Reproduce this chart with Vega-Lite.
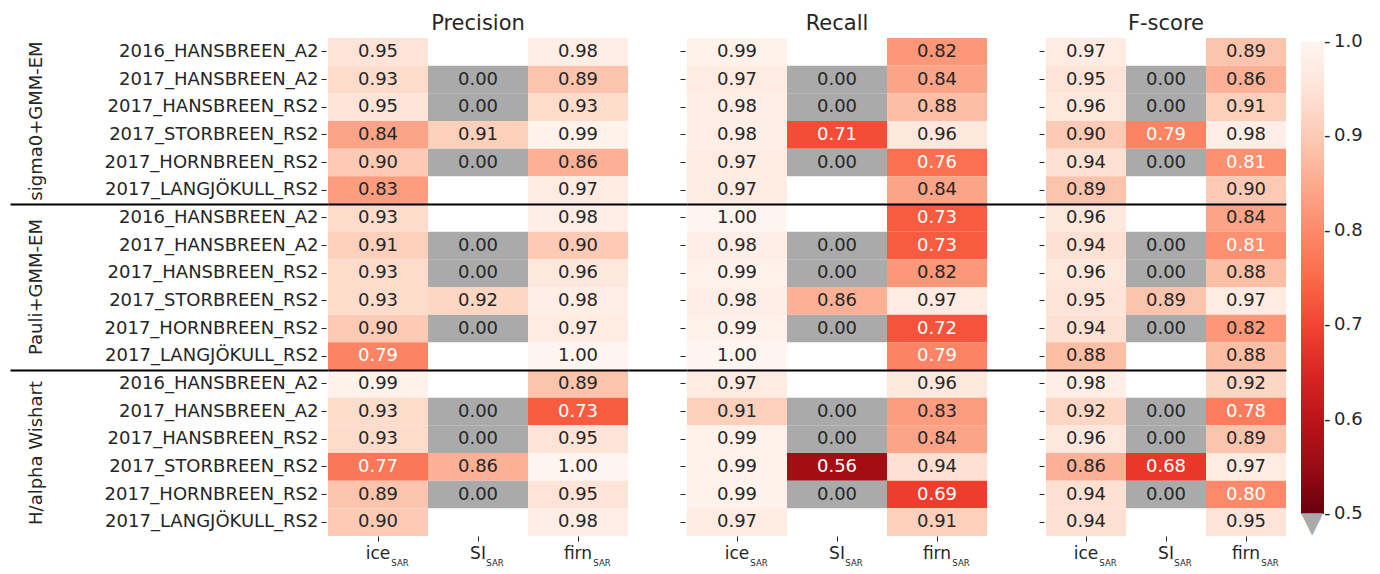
{
"$schema": "https://vega.github.io/schema/vega-lite/v6.json",
"padding": {"left": 8, "top": 13, "right": 5, "bottom": 5},
"background": "white",
"config": {
  "font": "DejaVu Sans",
  "view": {"stroke": null},
  "axis": {"labelFont": "DejaVu Sans", "labelColor": "#262626", "tickColor": "#262626", "domain": false, "title": null, "labelOverlap": false, "labelLimit": 0},
  "title": {"fontSize": 21, "fontWeight": "normal", "color": "#262626", "offset": 4, "font": "DejaVu Sans"},
  "legend": {"labelFont": "DejaVu Sans"}
},
"datasets": {
  "d": [
    {"m":"Precision","r":"s|2016_HANSBREEN_A2","ice":0.95,"firn":0.98},
    {"m":"Precision","r":"s|2017_HANSBREEN_A2","ice":0.93,"SI":0,"firn":0.89},
    {"m":"Precision","r":"s|2017_HANSBREEN_RS2","ice":0.95,"SI":0,"firn":0.93},
    {"m":"Precision","r":"s|2017_STORBREEN_RS2","ice":0.84,"SI":0.91,"firn":0.99},
    {"m":"Precision","r":"s|2017_HORNBREEN_RS2","ice":0.90,"SI":0,"firn":0.86},
    {"m":"Precision","r":"s|2017_LANGJÖKULL_RS2","ice":0.83,"firn":0.97},
    {"m":"Precision","r":"p|2016_HANSBREEN_A2","ice":0.93,"firn":0.98},
    {"m":"Precision","r":"p|2017_HANSBREEN_A2","ice":0.91,"SI":0,"firn":0.90},
    {"m":"Precision","r":"p|2017_HANSBREEN_RS2","ice":0.93,"SI":0,"firn":0.96},
    {"m":"Precision","r":"p|2017_STORBREEN_RS2","ice":0.93,"SI":0.92,"firn":0.98},
    {"m":"Precision","r":"p|2017_HORNBREEN_RS2","ice":0.90,"SI":0,"firn":0.97},
    {"m":"Precision","r":"p|2017_LANGJÖKULL_RS2","ice":0.79,"firn":1.00},
    {"m":"Precision","r":"h|2016_HANSBREEN_A2","ice":0.99,"firn":0.89},
    {"m":"Precision","r":"h|2017_HANSBREEN_A2","ice":0.93,"SI":0,"firn":0.73},
    {"m":"Precision","r":"h|2017_HANSBREEN_RS2","ice":0.93,"SI":0,"firn":0.95},
    {"m":"Precision","r":"h|2017_STORBREEN_RS2","ice":0.77,"SI":0.86,"firn":1.00},
    {"m":"Precision","r":"h|2017_HORNBREEN_RS2","ice":0.89,"SI":0,"firn":0.95},
    {"m":"Precision","r":"h|2017_LANGJÖKULL_RS2","ice":0.90,"firn":0.98},
    {"m":"Recall","r":"s|2016_HANSBREEN_A2","ice":0.99,"firn":0.82},
    {"m":"Recall","r":"s|2017_HANSBREEN_A2","ice":0.97,"SI":0,"firn":0.84},
    {"m":"Recall","r":"s|2017_HANSBREEN_RS2","ice":0.98,"SI":0,"firn":0.88},
    {"m":"Recall","r":"s|2017_STORBREEN_RS2","ice":0.98,"SI":0.71,"firn":0.96},
    {"m":"Recall","r":"s|2017_HORNBREEN_RS2","ice":0.97,"SI":0,"firn":0.76},
    {"m":"Recall","r":"s|2017_LANGJÖKULL_RS2","ice":0.97,"firn":0.84},
    {"m":"Recall","r":"p|2016_HANSBREEN_A2","ice":1.00,"firn":0.73},
    {"m":"Recall","r":"p|2017_HANSBREEN_A2","ice":0.98,"SI":0,"firn":0.73},
    {"m":"Recall","r":"p|2017_HANSBREEN_RS2","ice":0.99,"SI":0,"firn":0.82},
    {"m":"Recall","r":"p|2017_STORBREEN_RS2","ice":0.98,"SI":0.86,"firn":0.97},
    {"m":"Recall","r":"p|2017_HORNBREEN_RS2","ice":0.99,"SI":0,"firn":0.72},
    {"m":"Recall","r":"p|2017_LANGJÖKULL_RS2","ice":1.00,"firn":0.79},
    {"m":"Recall","r":"h|2016_HANSBREEN_A2","ice":0.97,"firn":0.96},
    {"m":"Recall","r":"h|2017_HANSBREEN_A2","ice":0.91,"SI":0,"firn":0.83},
    {"m":"Recall","r":"h|2017_HANSBREEN_RS2","ice":0.99,"SI":0,"firn":0.84},
    {"m":"Recall","r":"h|2017_STORBREEN_RS2","ice":0.99,"SI":0.56,"firn":0.94},
    {"m":"Recall","r":"h|2017_HORNBREEN_RS2","ice":0.99,"SI":0,"firn":0.69},
    {"m":"Recall","r":"h|2017_LANGJÖKULL_RS2","ice":0.97,"firn":0.91},
    {"m":"F-score","r":"s|2016_HANSBREEN_A2","ice":0.97,"firn":0.89},
    {"m":"F-score","r":"s|2017_HANSBREEN_A2","ice":0.95,"SI":0,"firn":0.86},
    {"m":"F-score","r":"s|2017_HANSBREEN_RS2","ice":0.96,"SI":0,"firn":0.91},
    {"m":"F-score","r":"s|2017_STORBREEN_RS2","ice":0.90,"SI":0.79,"firn":0.98},
    {"m":"F-score","r":"s|2017_HORNBREEN_RS2","ice":0.94,"SI":0,"firn":0.81},
    {"m":"F-score","r":"s|2017_LANGJÖKULL_RS2","ice":0.89,"firn":0.90},
    {"m":"F-score","r":"p|2016_HANSBREEN_A2","ice":0.96,"firn":0.84},
    {"m":"F-score","r":"p|2017_HANSBREEN_A2","ice":0.94,"SI":0,"firn":0.81},
    {"m":"F-score","r":"p|2017_HANSBREEN_RS2","ice":0.96,"SI":0,"firn":0.88},
    {"m":"F-score","r":"p|2017_STORBREEN_RS2","ice":0.95,"SI":0.89,"firn":0.97},
    {"m":"F-score","r":"p|2017_HORNBREEN_RS2","ice":0.94,"SI":0,"firn":0.82},
    {"m":"F-score","r":"p|2017_LANGJÖKULL_RS2","ice":0.88,"firn":0.88},
    {"m":"F-score","r":"h|2016_HANSBREEN_A2","ice":0.98,"firn":0.92},
    {"m":"F-score","r":"h|2017_HANSBREEN_A2","ice":0.92,"SI":0,"firn":0.78},
    {"m":"F-score","r":"h|2017_HANSBREEN_RS2","ice":0.96,"SI":0,"firn":0.89},
    {"m":"F-score","r":"h|2017_STORBREEN_RS2","ice":0.86,"SI":0.68,"firn":0.97},
    {"m":"F-score","r":"h|2017_HORNBREEN_RS2","ice":0.94,"SI":0,"firn":0.80},
    {"m":"F-score","r":"h|2017_LANGJÖKULL_RS2","ice":0.94,"firn":0.95}
  ]
},
"spacing": 59,
"bounds": "flush",
"hconcat": [
  {
    "width": 300, "height": 498,
    "title": {"text": "Precision"},
    "data": {"name": "d"},
    "transform": [{"filter": "datum.m === 'Precision'"}, {"fold": ["ice", "SI", "firn"], "as": ["c", "v"]}, {"filter": "datum.v != null"}],
    "layer": [
      {
        "transform": [{"filter": "datum.v > 0"}],
        "mark": {"type": "rect"},
        "encoding": {
          "x": {"field": "c", "type": "nominal", "scale": {"domain": ["ice", "SI", "firn"], "paddingInner": 0, "paddingOuter": 0}, "axis": {"orient": "bottom", "labelAngle": 0, "labelFontSize": 17, "tickSize": 5, "labelPadding": 4}},
          "y": {"field": "r", "type": "nominal", "scale": {"domain": ["s|2016_HANSBREEN_A2","s|2017_HANSBREEN_A2","s|2017_HANSBREEN_RS2","s|2017_STORBREEN_RS2","s|2017_HORNBREEN_RS2","s|2017_LANGJÖKULL_RS2","p|2016_HANSBREEN_A2","p|2017_HANSBREEN_A2","p|2017_HANSBREEN_RS2","p|2017_STORBREEN_RS2","p|2017_HORNBREEN_RS2","p|2017_LANGJÖKULL_RS2","h|2016_HANSBREEN_A2","h|2017_HANSBREEN_A2","h|2017_HANSBREEN_RS2","h|2017_STORBREEN_RS2","h|2017_HORNBREEN_RS2","h|2017_LANGJÖKULL_RS2"], "paddingInner": 0, "paddingOuter": 0}, "axis": {"orient": "left", "labelFontSize": 18, "tickSize": 5, "offset": 2, "labelPadding": 3, "labelExpr": "split(datum.value, '|')[1]"}},
          "color": {"field": "v", "type": "quantitative", "scale": {"type": "linear", "domain": [0.5, 0.5625, 0.625, 0.6875, 0.75, 0.8125, 0.875, 0.9375, 1.0], "range": ["#67000d", "#a50f15", "#cb181d", "#ef3b2c", "#fb6a4a", "#fc9272", "#fcbba1", "#fee0d2", "#fff5f0"], "interpolate": "rgb"}, "legend": {"orient": "right", "offset": 11, "padding": 4, "direction": "vertical", "gradientLength": 472, "gradientThickness": 23, "gradientStrokeWidth": 0, "values": [0.5, 0.6, 0.7, 0.8, 0.9, 1.0], "labelExpr": "'-\u2009' + format(datum.value, '.1f')", "labelFontSize": 18, "labelColor": "#262626", "labelBaseline": "middle", "labelOffset": 0, "labelOverlap": false, "encode": {"labels": {"update": {"baseline": {"value": "middle"}}}}, "title": "▼", "titleOrient": "bottom", "titleFontSize": 29, "titleColor": "#aaaaaa", "titleAnchor": "start", "titleAlign": "left", "titlePadding": -14, "titleFontWeight": "normal"}}
        }
      },
      {
        "transform": [{"filter": "datum.v === 0"}],
        "mark": {"type": "rect", "color": "#aaaaaa"},
        "encoding": {
          "x": {"field": "c", "type": "nominal", "axis": null},
          "y": {"field": "r", "type": "nominal", "axis": {"orient": "left", "values": ["s|2017_STORBREEN_RS2", "p|2017_STORBREEN_RS2", "h|2017_STORBREEN_RS2"], "ticks": false, "labelAngle": 270, "labelAlign": "center", "labelBaseline": "bottom", "labelPadding": 283, "labelOffset": -13.83, "labelFontSize": 18, "labelExpr": "substring(datum.value, 0, 1) === 's' ? 'sigma0+GMM-EM' : substring(datum.value, 0, 1) === 'p' ? 'Pauli+GMM-EM' : 'H/alpha Wishart'"}}
        }
      },
      {
        "mark": {"type": "text", "fontSize": 18, "font": "DejaVu Sans"},
        "encoding": {
          "x": {"field": "c", "type": "nominal", "axis": {"orient": "bottom", "labelAngle": 0, "ticks": false, "labelFontSize": 8.5, "labelPadding": 22, "labelExpr": "'SAR'", "labelOffset": {"condition": [{"test": "datum.value === 'SI'", "value": 17}, {"test": "datum.value === 'ice'", "value": 22}], "value": 24}}},
          "y": {"field": "r", "type": "nominal", "axis": {"orient": "left", "values": ["p|2016_HANSBREEN_A2", "h|2016_HANSBREEN_A2"], "bandPosition": 0, "labels": false, "tickSize": 318, "tickWidth": 2.2, "tickColor": "black", "grid": true, "gridColor": "black", "gridWidth": 2.2, "gridOpacity": 1, "zindex": 2}},
          "text": {"field": "v", "type": "quantitative", "format": ".2f"},
          "color": {"condition": {"test": "datum.v > 0 && datum.v < 0.82", "value": "white"}, "value": "#262626"}
        }
      }
    ],
    "resolve": {"axis": {"x": "independent", "y": "independent"}}
  },
  {
    "width": 300, "height": 498,
    "title": {"text": "Recall"},
    "data": {"name": "d"},
    "transform": [{"filter": "datum.m === 'Recall'"}, {"fold": ["ice", "SI", "firn"], "as": ["c", "v"]}, {"filter": "datum.v != null"}],
    "layer": [
      {
        "transform": [{"filter": "datum.v > 0"}],
        "mark": {"type": "rect"},
        "encoding": {
          "x": {"field": "c", "type": "nominal", "scale": {"domain": ["ice", "SI", "firn"], "paddingInner": 0, "paddingOuter": 0}, "axis": {"orient": "bottom", "labelAngle": 0, "labelFontSize": 17, "tickSize": 5, "labelPadding": 4}},
          "y": {"field": "r", "type": "nominal", "scale": {"domain": ["s|2016_HANSBREEN_A2","s|2017_HANSBREEN_A2","s|2017_HANSBREEN_RS2","s|2017_STORBREEN_RS2","s|2017_HORNBREEN_RS2","s|2017_LANGJÖKULL_RS2","p|2016_HANSBREEN_A2","p|2017_HANSBREEN_A2","p|2017_HANSBREEN_RS2","p|2017_STORBREEN_RS2","p|2017_HORNBREEN_RS2","p|2017_LANGJÖKULL_RS2","h|2016_HANSBREEN_A2","h|2017_HANSBREEN_A2","h|2017_HANSBREEN_RS2","h|2017_STORBREEN_RS2","h|2017_HORNBREEN_RS2","h|2017_LANGJÖKULL_RS2"], "paddingInner": 0, "paddingOuter": 0}, "axis": {"orient": "left", "labels": false, "tickSize": 5, "offset": 2}},
          "color": {"field": "v", "type": "quantitative", "scale": {"type": "linear", "domain": [0.5, 0.5625, 0.625, 0.6875, 0.75, 0.8125, 0.875, 0.9375, 1.0], "range": ["#67000d", "#a50f15", "#cb181d", "#ef3b2c", "#fb6a4a", "#fc9272", "#fcbba1", "#fee0d2", "#fff5f0"], "interpolate": "rgb"}, "legend": {"orient": "right", "offset": 11, "padding": 4, "direction": "vertical", "gradientLength": 472, "gradientThickness": 23, "gradientStrokeWidth": 0, "values": [0.5, 0.6, 0.7, 0.8, 0.9, 1.0], "labelExpr": "'-\u2009' + format(datum.value, '.1f')", "labelFontSize": 18, "labelColor": "#262626", "labelBaseline": "middle", "labelOffset": 0, "labelOverlap": false, "encode": {"labels": {"update": {"baseline": {"value": "middle"}}}}, "title": "▼", "titleOrient": "bottom", "titleFontSize": 29, "titleColor": "#aaaaaa", "titleAnchor": "start", "titleAlign": "left", "titlePadding": -14, "titleFontWeight": "normal"}}
        }
      },
      {
        "transform": [{"filter": "datum.v === 0"}],
        "mark": {"type": "rect", "color": "#aaaaaa"},
        "encoding": {
          "x": {"field": "c", "type": "nominal", "axis": null},
          "y": {"field": "r", "type": "nominal", "axis": null}
        }
      },
      {
        "mark": {"type": "text", "fontSize": 18, "font": "DejaVu Sans"},
        "encoding": {
          "x": {"field": "c", "type": "nominal", "axis": {"orient": "bottom", "labelAngle": 0, "ticks": false, "labelFontSize": 8.5, "labelPadding": 22, "labelExpr": "'SAR'", "labelOffset": {"condition": [{"test": "datum.value === 'SI'", "value": 17}, {"test": "datum.value === 'ice'", "value": 22}], "value": 24}}},
          "y": {"field": "r", "type": "nominal", "axis": {"orient": "left", "values": ["p|2016_HANSBREEN_A2", "h|2016_HANSBREEN_A2"], "bandPosition": 0, "labels": false, "tickSize": 59, "tickWidth": 2.2, "tickColor": "black", "grid": true, "gridColor": "black", "gridWidth": 2.2, "gridOpacity": 1, "zindex": 2}},
          "text": {"field": "v", "type": "quantitative", "format": ".2f"},
          "color": {"condition": {"test": "datum.v > 0 && datum.v < 0.82", "value": "white"}, "value": "#262626"}
        }
      }
    ],
    "resolve": {"axis": {"x": "independent", "y": "independent"}}
  },
  {
    "width": 240, "height": 498,
    "title": {"text": "F-score"},
    "data": {"name": "d"},
    "transform": [{"filter": "datum.m === 'F-score'"}, {"fold": ["ice", "SI", "firn"], "as": ["c", "v"]}, {"filter": "datum.v != null"}],
    "layer": [
      {
        "transform": [{"filter": "datum.v > 0"}],
        "mark": {"type": "rect"},
        "encoding": {
          "x": {"field": "c", "type": "nominal", "scale": {"domain": ["ice", "SI", "firn"], "paddingInner": 0, "paddingOuter": 0}, "axis": {"orient": "bottom", "labelAngle": 0, "labelFontSize": 17, "tickSize": 5, "labelPadding": 4}},
          "y": {"field": "r", "type": "nominal", "scale": {"domain": ["s|2016_HANSBREEN_A2","s|2017_HANSBREEN_A2","s|2017_HANSBREEN_RS2","s|2017_STORBREEN_RS2","s|2017_HORNBREEN_RS2","s|2017_LANGJÖKULL_RS2","p|2016_HANSBREEN_A2","p|2017_HANSBREEN_A2","p|2017_HANSBREEN_RS2","p|2017_STORBREEN_RS2","p|2017_HORNBREEN_RS2","p|2017_LANGJÖKULL_RS2","h|2016_HANSBREEN_A2","h|2017_HANSBREEN_A2","h|2017_HANSBREEN_RS2","h|2017_STORBREEN_RS2","h|2017_HORNBREEN_RS2","h|2017_LANGJÖKULL_RS2"], "paddingInner": 0, "paddingOuter": 0}, "axis": {"orient": "left", "labels": false, "tickSize": 5, "offset": 2}},
          "color": {"field": "v", "type": "quantitative", "scale": {"type": "linear", "domain": [0.5, 0.5625, 0.625, 0.6875, 0.75, 0.8125, 0.875, 0.9375, 1.0], "range": ["#67000d", "#a50f15", "#cb181d", "#ef3b2c", "#fb6a4a", "#fc9272", "#fcbba1", "#fee0d2", "#fff5f0"], "interpolate": "rgb"}, "legend": {"orient": "right", "offset": 11, "padding": 4, "direction": "vertical", "gradientLength": 472, "gradientThickness": 23, "gradientStrokeWidth": 0, "values": [0.5, 0.6, 0.7, 0.8, 0.9, 1.0], "labelExpr": "'-\u2009' + format(datum.value, '.1f')", "labelFontSize": 18, "labelColor": "#262626", "labelBaseline": "middle", "labelOffset": 0, "labelOverlap": false, "encode": {"labels": {"update": {"baseline": {"value": "middle"}}}}, "title": "▼", "titleOrient": "bottom", "titleFontSize": 29, "titleColor": "#aaaaaa", "titleAnchor": "start", "titleAlign": "left", "titlePadding": -14, "titleFontWeight": "normal"}}
        }
      },
      {
        "transform": [{"filter": "datum.v === 0"}],
        "mark": {"type": "rect", "color": "#aaaaaa"},
        "encoding": {
          "x": {"field": "c", "type": "nominal", "axis": null},
          "y": {"field": "r", "type": "nominal", "axis": null}
        }
      },
      {
        "mark": {"type": "text", "fontSize": 18, "font": "DejaVu Sans"},
        "encoding": {
          "x": {"field": "c", "type": "nominal", "axis": {"orient": "bottom", "labelAngle": 0, "ticks": false, "labelFontSize": 8.5, "labelPadding": 22, "labelExpr": "'SAR'", "labelOffset": {"condition": [{"test": "datum.value === 'SI'", "value": 17}, {"test": "datum.value === 'ice'", "value": 22}], "value": 24}}},
          "y": {"field": "r", "type": "nominal", "axis": {"orient": "left", "values": ["p|2016_HANSBREEN_A2", "h|2016_HANSBREEN_A2"], "bandPosition": 0, "labels": false, "tickSize": 60, "tickWidth": 2.2, "tickColor": "black", "grid": true, "gridColor": "black", "gridWidth": 2.2, "gridOpacity": 1, "zindex": 2}},
          "text": {"field": "v", "type": "quantitative", "format": ".2f"},
          "color": {"condition": {"test": "datum.v > 0 && datum.v < 0.82", "value": "white"}, "value": "#262626"}
        }
      }
    ],
    "resolve": {"axis": {"x": "independent", "y": "independent"}}
  }
]
}
